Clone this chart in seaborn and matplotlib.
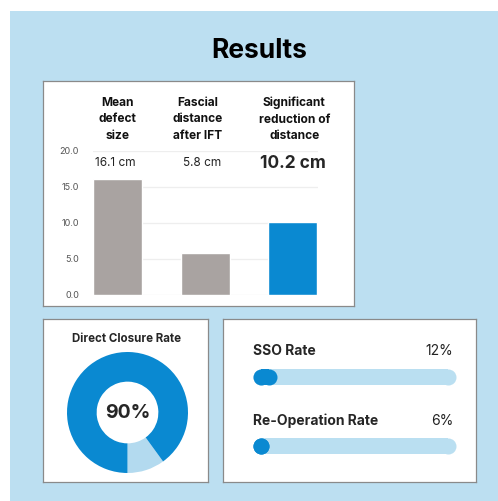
import numpy as np
import pandas as pd
import seaborn as sns
import matplotlib.pyplot as plt
from matplotlib.patches import Rectangle

# data
categories = ["Mean\ndefect\nsize", "Fascial\ndistance\nafter IFT", "Significant\nreduction of\ndistance"]
values_cm = [16.1, 5.8, 10.2]
value_labels = ["16.1 cm", "5.8 cm", "10.2 cm"]
y_ticks = [0, 5, 10, 15, 20]

closure_rate = 90
rate_names = ["SSO Rate", "Re-Operation Rate"]
rate_values = [12, 6]

# colors
BG = "#bcdff1"
BLUE = "#0a89d1"
GREY_BAR = "#a9a3a1"
TRACK = "#badff1"
LIGHT_WEDGE = "#b3daef"
BORDER = "#8a8a8a"

sns.set_style("white")
plt.rcParams["font.family"] = ["Inter", "DejaVu Sans"]

W, H = 498, 501
fig = plt.figure(figsize=(W / 100, H / 100), dpi=100)
fig.patch.set_facecolor("white")


def px_axes(x0, y0, x1, y1, **kw):
    # axes from pixel box (top-left origin)
    return fig.add_axes([x0 / W, 1 - y1 / H, (x1 - x0) / W, (y1 - y0) / H], **kw)


# light blue backdrop
fig.patches.append(Rectangle((10 / W, 0), 1, 1 - 11 / H, transform=fig.transFigure,
                             facecolor=BG, edgecolor="none", zorder=-10))

fig.text(259 / W, 1 - 58 / H, "Results", ha="center", va="baseline",
         fontsize=19, fontweight="bold", color="black")

# white panels
for box in [(43, 81, 354, 306), (43, 319, 208, 482), (223, 319, 476, 482)]:
    pa = px_axes(*box)
    pa.set_facecolor("white")
    pa.set_xticks([])
    pa.set_yticks([])
    for s in pa.spines.values():
        s.set_visible(True)
        s.set_color(BORDER)
        s.set_linewidth(0.9)

# bar chart
ax = px_axes(93, 151, 318, 295)
ax.patch.set_alpha(0)
df = pd.DataFrame({"cat": categories, "val": values_cm})
sns.barplot(data=df, x="cat", y="val", hue="cat", palette=[GREY_BAR, GREY_BAR, BLUE],
            width=0.56, saturation=1, legend=False, ax=ax, zorder=3)
ax.set_xlim(-0.28, 2.29)
ax.set_ylim(0, 20)
ax.set_yticks(y_ticks)
ax.set_yticklabels([f"{t:.1f}" for t in y_ticks], fontsize=6.5, color="#555555")
ax.tick_params(axis="y", length=0, pad=10)
ax.set_xticks([])
ax.set_xlabel("")
ax.set_ylabel("")
for s in ax.spines.values():
    s.set_visible(False)
for t in y_ticks:
    ax.axhline(t, color="#eeeeee", linewidth=0.9, zorder=0)

header_x = [0, 0.92, 2.02]
label_x = [-0.02, 0.97, 2.0]
for i, (cat, lab) in enumerate(zip(categories, value_labels)):
    ax.text(header_x[i], 24.4, cat, ha="center", va="center", fontsize=8.6,
            fontweight="bold", linespacing=1.5, color="#111111")
    if i == 2:
        ax.text(label_x[i], 18.3, lab, ha="center", va="center", fontsize=12.5, fontweight="bold")
    else:
        ax.text(label_x[i], 18.3, lab, ha="center", va="center", fontsize=8.5, color="#222222")

# donut
fig.text(126 / W, 1 - 339 / H, "Direct Closure Rate", ha="center", va="center",
         fontsize=8.3, fontweight="bold")
dax = px_axes(127.5 - 60.5, 412.5 - 60.5, 127.5 + 60.5, 412.5 + 60.5)
dax.pie([100 - closure_rate, closure_rate], colors=[LIGHT_WEDGE, BLUE], startangle=270,
        counterclock=True, radius=1, wedgeprops=dict(width=0.49, linewidth=0))
dax.set_xlim(-1, 1)
dax.set_ylim(-1, 1)
dax.set_aspect("equal")
dax.axis("off")
dax.text(0, 0, f"{closure_rate}%", ha="center", va="center", fontsize=14, fontweight="bold")

# progress bars (butt line + round end dots)
pax = px_axes(253, 330, 456, 470)
pax.set_xlim(0, 100)
pax.set_ylim(470, 330)
pax.axis("off")
lw_pt = 16 * 72 / 100
r = 8 / 203 * 100
track_y = [377, 446]
text_y = [355, 425]


def pill(x0, x1, y, color, z):
    pax.plot([x0, x1], [y, y], color=color, linewidth=lw_pt, solid_capstyle="butt", zorder=z)
    pax.scatter([x0, x1], [y, y], s=lw_pt ** 2, color=color, linewidths=0, zorder=z)


for name, v, ty, txy in zip(rate_names, rate_values, track_y, text_y):
    pill(r, 100 - r, ty, TRACK, 2)
    pill(r, max(v - r, r), ty, BLUE, 3)
    pax.text(0, txy, name, ha="left", va="baseline", fontsize=10, fontweight="bold")
    pax.text(98.5, txy, f"{v}%", ha="right", va="baseline", fontsize=10, color="#222222")

fig.savefig("out.png", dpi=100, facecolor=fig.get_facecolor())
